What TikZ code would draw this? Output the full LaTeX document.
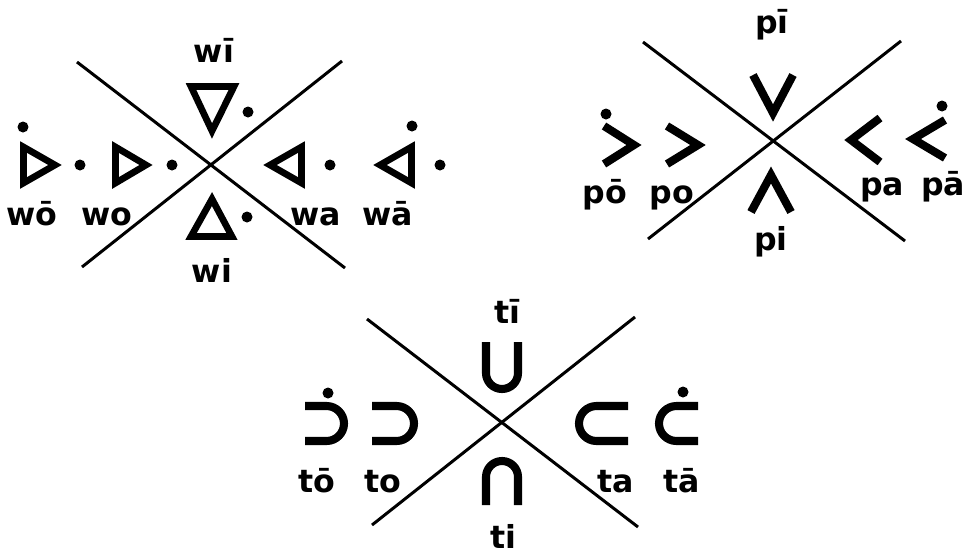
\documentclass[tikz,border=0pt]{standalone}
\usepackage{fontspec}
\setmainfont{DejaVu Sans}
\usetikzlibrary{calc}
\tikzset{
    crossLine/.style={line width=1.7pt, black},
    triLine/.style={line width=3.8pt, line join=miter, black},
    chevLine/.style={line width=4.6pt, line join=miter, black},
    hookLine/.style={line width=4.6pt, black},
    sylLabel/.style={anchor=base, inner sep=0pt, font=\fontsize{18}{21}\selectfont\bfseries}
}

\begin{document}
\begin{tikzpicture}[x=0.02cm, y=-0.02cm]
        \useasboundingbox (0,0) rectangle (966,555);

        % --- Dot Macro ---
        \def\sylDot#1{\fill (#1) circle[radius=0.11cm];}

        % --- Coordinates (cross lines) ---
        \coordinate (wNW) at (77,62);
        \coordinate (wSE) at (345,268);
        \coordinate (wNE) at (342,61);
        \coordinate (wSW) at (82,267);

        \coordinate (pNW) at (643,42);
        \coordinate (pSE) at (905,241);
        \coordinate (pNE) at (901,41);
        \coordinate (pSW) at (648,239);

        \coordinate (tNW) at (367,319);
        \coordinate (tSE) at (638,527);
        \coordinate (tNE) at (635,317);
        \coordinate (tSW) at (372,525);

        % 1. Cross lines
        \draw[crossLine] (wNW) -- (wSE);
        \draw[crossLine] (wNE) -- (wSW);
        \draw[crossLine] (pNW) -- (pSE);
        \draw[crossLine] (pNE) -- (pSW);
        \draw[crossLine] (tNW) -- (tSE);
        \draw[crossLine] (tNE) -- (tSW);

        % 2. w series (triangles)
        \draw[triLine] (191,86.5) -- (234,86.5) -- (212,131) -- cycle;
        \draw[triLine] (212,199) -- (232,236.5) -- (191,236.5) -- cycle;
        \draw[triLine] (115.5,147) -- (146,165) -- (115.5,183) -- cycle;
        \draw[triLine] (23.5,147) -- (55,165) -- (23.5,183) -- cycle;
        \draw[triLine] (301.5,147) -- (270,165) -- (301.5,183) -- cycle;
        \draw[triLine] (411.5,147) -- (380,165) -- (411.5,183) -- cycle;

        \sylDot{248,112}
        \sylDot{247,217}
        \sylDot{172,165}
        \sylDot{23,127}
        \sylDot{80,165}
        \sylDot{330,165}
        \sylDot{412,126}
        \sylDot{440,165}

        % 3. p series (chevrons)
        \draw[chevLine] (753,75) -- (773,113) -- (793,75);
        \draw[chevLine] (751,212) -- (771,175) -- (791,212);
        \draw[chevLine] (667,126) -- (698,145) -- (667,164);
        \draw[chevLine] (604,126) -- (634,145) -- (604,164);
        \draw[chevLine] (880,118) -- (851,140) -- (880,162);
        \draw[chevLine] (945,120) -- (913,139) -- (945,158);

        \sylDot{606,114}
        \sylDot{942,106}

        % 4. t series (hooks)
        \draw[hookLine, rounded corners=0.32cm] (486,342) -- (486,389) -- (518,389) -- (518,342);
        \draw[hookLine, rounded corners=0.32cm] (486,505) -- (486,461) -- (518,461) -- (518,505);
        \draw[hookLine, rounded corners=0.35cm] (372,406) -- (414,406) -- (414,441) -- (372,441);
        \draw[hookLine, rounded corners=0.35cm] (305,406) -- (344,406) -- (344,441) -- (305,441);
        \draw[hookLine, rounded corners=0.35cm] (628,406) -- (579,406) -- (579,441) -- (628,441);
        \draw[hookLine, rounded corners=0.35cm] (698,406) -- (659,406) -- (659,441) -- (698,441);

        \sylDot{328,393}
        \sylDot{683,392}

        % 5. Labels
        \node[sylLabel] (lblWii) at (214,62) {wī};
        \node[sylLabel] (lblWi) at (212,282) {wi};
        \node[sylLabel] (lblWoo) at (32,225) {wō};
        \node[sylLabel] (lblWo) at (107,225) {wo};
        \node[sylLabel] (lblWa) at (316,225) {wa};
        \node[sylLabel] (lblWaa) at (388,225) {wā};

        \node[sylLabel] (lblPii) at (772,33) {pī};
        \node[sylLabel] (lblPi) at (771,250) {pi};
        \node[sylLabel] (lblPoo) at (605,203) {pō};
        \node[sylLabel] (lblPo) at (672,203) {po};
        \node[sylLabel] (lblPa) at (882,195) {pa};
        \node[sylLabel] (lblPaa) at (943,195) {pā};

        \node[sylLabel] (lblTii) at (507,323) {tī};
        \node[sylLabel] (lblTi) at (503,548) {ti};
        \node[sylLabel] (lblToo) at (317,492) {tō};
        \node[sylLabel] (lblTo) at (383,492) {to};
        \node[sylLabel] (lblTa) at (616,492) {ta};
        \node[sylLabel] (lblTaa) at (682,492) {tā};

    \end{tikzpicture}
\end{document}
